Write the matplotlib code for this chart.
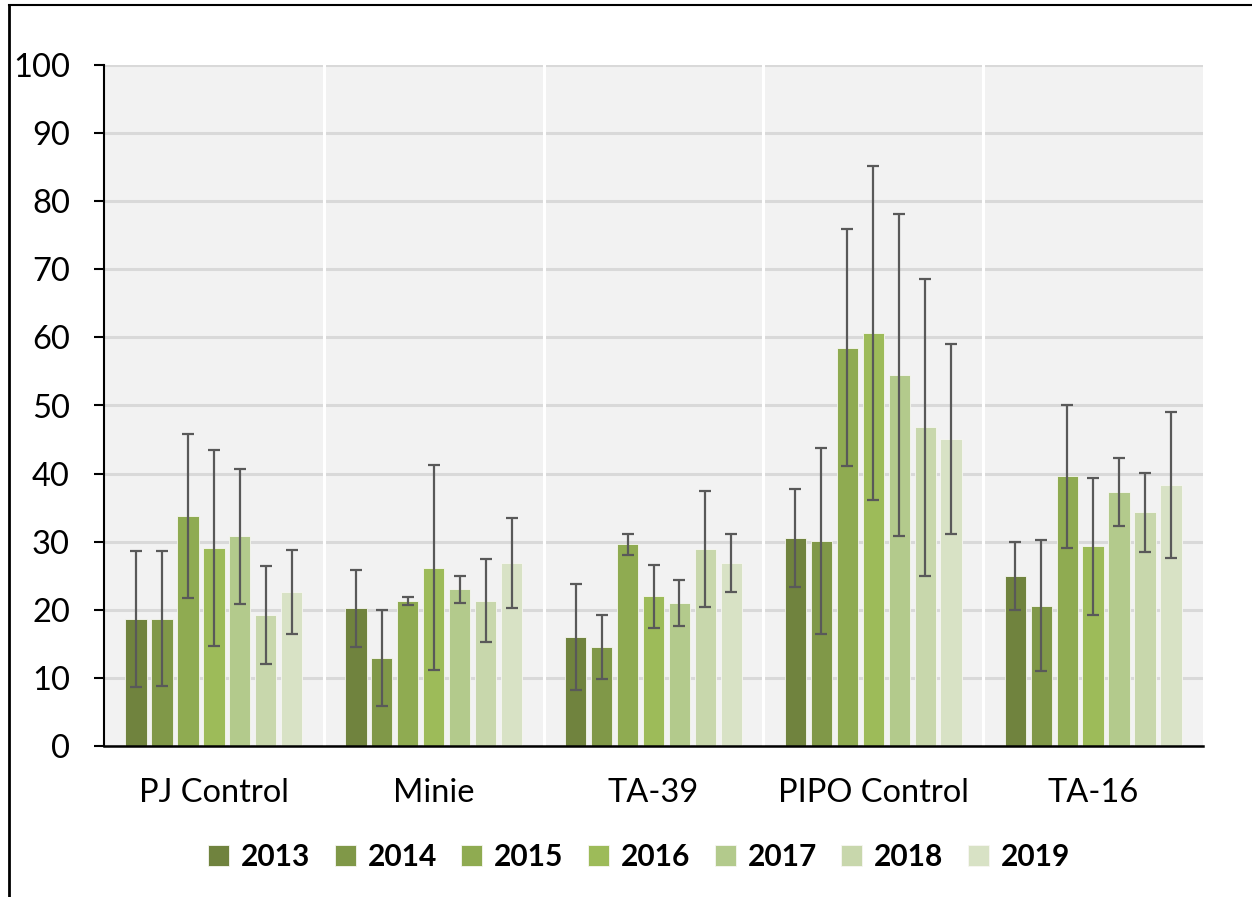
import numpy as np
import matplotlib
matplotlib.use("Agg")
import matplotlib.pyplot as plt
from matplotlib.lines import Line2D

plt.rcParams['font.family'] = ['Lato', 'DejaVu Sans']

sites = ["PJ Control", "Minie", "TA-39", "PIPO Control", "TA-16"]
years = ["2013", "2014", "2015", "2016", "2017", "2018", "2019"]
colors = ["#70833E", "#809848", "#8FAB51", "#9DBB59", "#B3CA8C", "#C8D7AC", "#D8E2C5"]

# mean values per year, one entry per site
means = {
    "2013": [18.7, 20.2, 16.0, 30.6, 25.0],
    "2014": [18.7, 12.9, 14.6, 30.1, 20.6],
    "2015": [33.8, 21.3, 29.6, 58.5, 39.6],
    "2016": [29.1, 26.2, 22.0, 60.6, 29.3],
    "2017": [30.8, 23.0, 21.0, 54.5, 37.3],
    "2018": [19.2, 21.3, 28.9, 46.8, 34.3],
    "2019": [22.6, 26.9, 26.9, 45.1, 38.3],
}
# symmetric error (+/-) per year, one entry per site
errors = {
    "2013": [10.0, 5.7, 7.8, 7.2, 5.0],
    "2014": [9.9, 7.0, 4.7, 13.6, 9.6],
    "2015": [12.0, 0.6, 1.5, 17.4, 10.5],
    "2016": [14.4, 15.0, 4.6, 24.5, 10.0],
    "2017": [9.9, 2.0, 3.4, 23.6, 5.0],
    "2018": [7.2, 6.1, 8.5, 21.8, 5.8],
    "2019": [6.2, 6.6, 4.3, 14.0, 10.7],
}

fig = plt.figure(figsize=(12.52, 8.97), dpi=100)
ax = fig.add_axes([104/1252, 1 - 746/897, (1203 - 104)/1252, (746 - 65)/897])
ax.set_facecolor("#F2F2F2")

x = np.arange(len(sites))
pitch = 0.118
width = 0.097
n = len(years)
for i, (yr, col) in enumerate(zip(years, colors)):
    offs = (i - (n - 1) / 2) * pitch
    ax.bar(x + offs, means[yr], width=width, color=col, edgecolor="#F7F7F2",
           linewidth=0.6, zorder=3, label=yr)
    ax.errorbar(x + offs, means[yr], yerr=errors[yr], fmt="none",
                ecolor="#595959", elinewidth=1.6, capsize=4.5, capthick=1.6,
                zorder=4)

ax.set_xlim(-0.5, len(sites) - 0.5)
ax.set_ylim(0, 100)
ax.set_yticks(np.arange(0, 101, 10))
ax.yaxis.grid(True, color="#D9D9D9", linewidth=2.2, zorder=1)
ax.set_axisbelow(True)
for b in np.arange(0.5, len(sites) - 0.5, 1):
    ax.axvline(b, color="white", linewidth=2.2, zorder=2)

ax.set_xticks(x)
ax.set_xticklabels(sites)
ax.tick_params(axis="x", length=0, pad=23, labelsize=23.5)
ax.tick_params(axis="y", length=7.5, width=1.5, direction="out", pad=17, labelsize=23.5)

for s in ["top", "right"]:
    ax.spines[s].set_visible(False)
ax.spines["left"].set_linewidth(1.5)
ax.spines["bottom"].set_linewidth(1.8)
ax.spines["left"].set_zorder(5)
ax.spines["bottom"].set_zorder(5)

leg = fig.legend(loc="center", bbox_to_anchor=(639/1252, 1 - 857/897), ncol=7,
                 frameon=False, handlelength=0.7, handleheight=0.7,
                 handletextpad=0.4, columnspacing=0.82,
                 prop={"weight": "bold", "size": 21.5})

# outer frame lines along the left and top edges
fig.add_artist(Line2D([8.5/1252, 8.5/1252], [0, 1 - 5/897], color="black",
                      linewidth=2.0, transform=fig.transFigure))
fig.add_artist(Line2D([8.5/1252, 1], [1 - 5/897, 1 - 5/897], color="black",
                      linewidth=1.5, transform=fig.transFigure))

fig.savefig("out.png", dpi=100)
